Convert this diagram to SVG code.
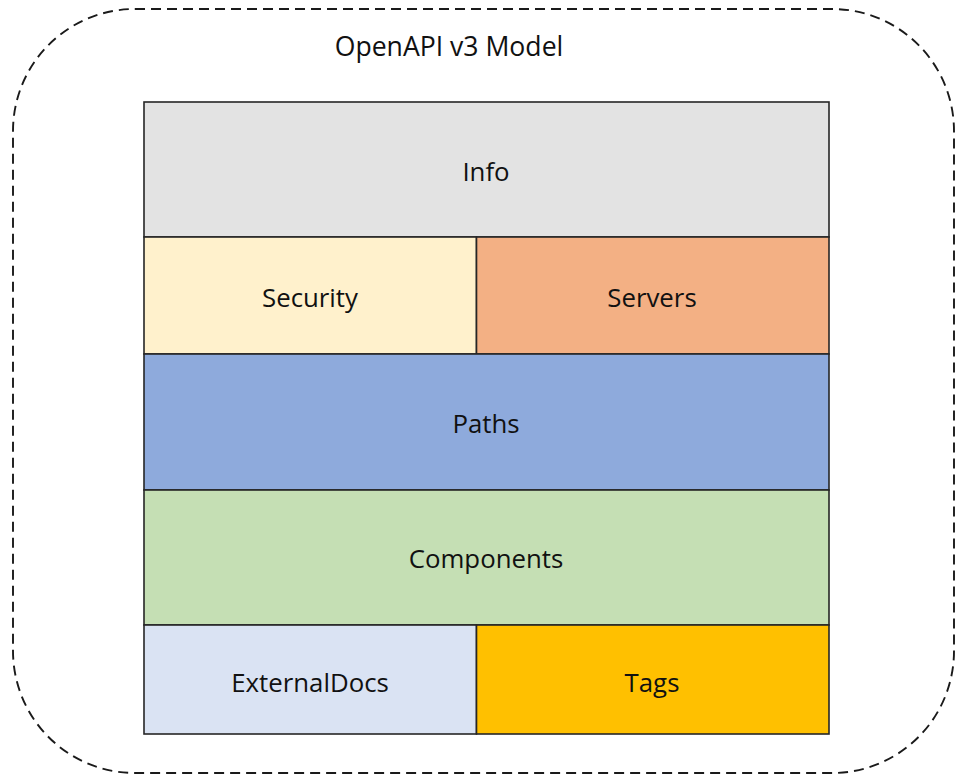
<svg xmlns="http://www.w3.org/2000/svg" width="961" height="775" viewBox="0 0 961 775">
  <style>
    .cell { stroke: #262626; stroke-width: 1.6; }
    .lbl { font-family: "Open Sans", "Noto Sans", "Liberation Sans", sans-serif; font-size: 25.8px; fill: #111; text-anchor: middle; dominant-baseline: central; }
    .title { font-size: 26.6px; }
  </style>
  <rect width="961" height="775" fill="#ffffff"/>
  <!-- model boundary -->
  <g id="model">
    <rect x="13" y="9" width="941" height="764" rx="122" ry="122" fill="none" stroke="#1a1a1a" stroke-width="1.9" stroke-dasharray="10 6"/>
    <text class="lbl title" x="449" y="46">OpenAPI v3 Model</text>
  </g>
  <g id="info">
    <rect class="cell" x="144" y="102" width="685" height="135" fill="#E3E3E3"/>
    <text class="lbl" x="486" y="171">Info</text>
  </g>
  <g id="security">
    <rect class="cell" x="144" y="237" width="332.5" height="117" fill="#FFF1CC"/>
    <text class="lbl" x="310" y="297">Security</text>
  </g>
  <g id="servers">
    <rect class="cell" x="476.5" y="237" width="352.5" height="117" fill="#F3B084"/>
    <text class="lbl" x="652" y="297">Servers</text>
  </g>
  <g id="paths">
    <rect class="cell" x="144" y="354" width="685" height="136" fill="#8EAADC"/>
    <text class="lbl" x="486" y="423">Paths</text>
  </g>
  <g id="components">
    <rect class="cell" x="144" y="490" width="685" height="135" fill="#C5DFB4"/>
    <text class="lbl" x="486" y="558">Components</text>
  </g>
  <g id="externaldocs">
    <rect class="cell" x="144" y="625" width="332.5" height="109" fill="#DAE3F3"/>
    <text class="lbl" x="310" y="682">ExternalDocs</text>
  </g>
  <g id="tags">
    <rect class="cell" x="476.5" y="625" width="352.5" height="109" fill="#FFC000"/>
    <text class="lbl" x="652" y="682">Tags</text>
  </g>
  <g id="connectors"></g>
</svg>
